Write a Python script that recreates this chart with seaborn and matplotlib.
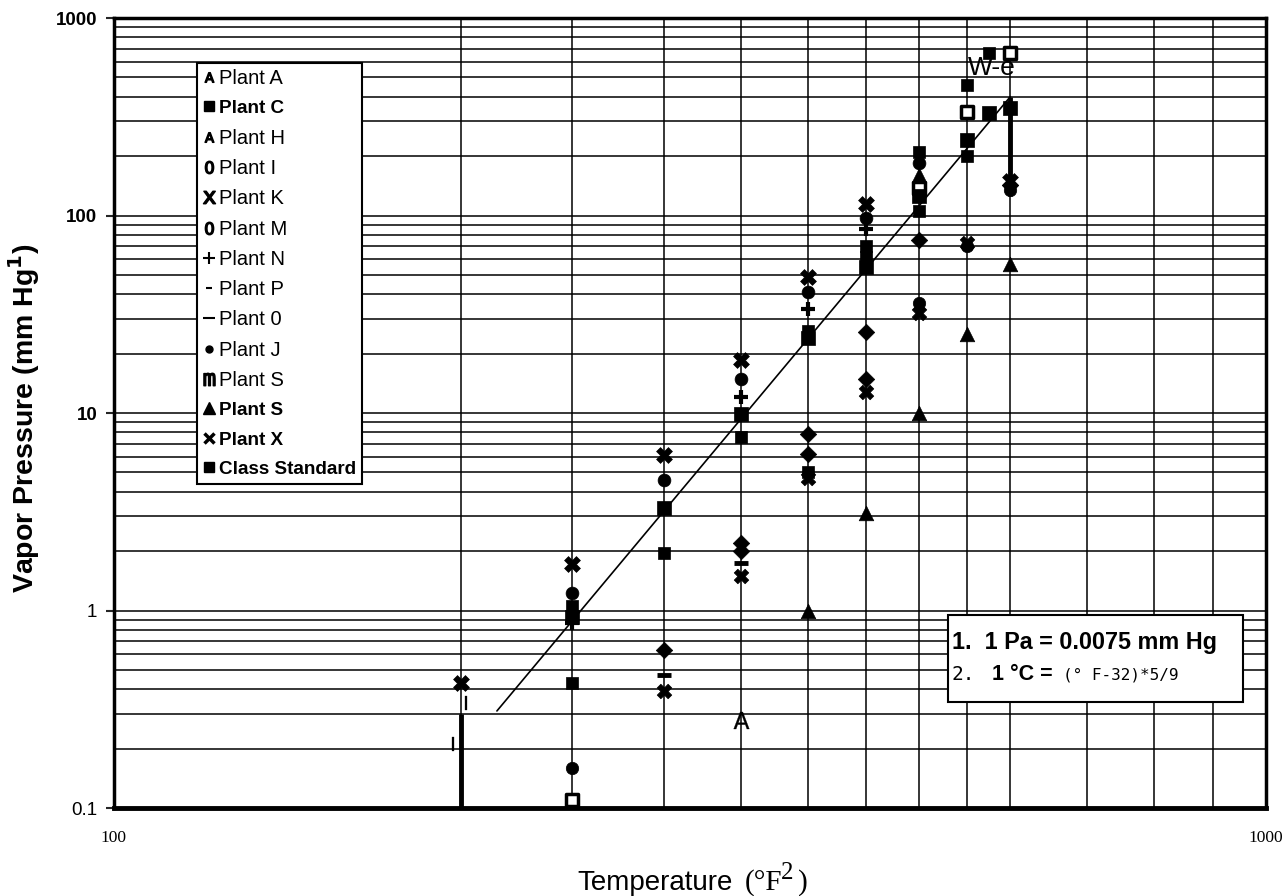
import numpy as np
import pandas as pd
import matplotlib
matplotlib.use("Agg")
import matplotlib.pyplot as plt
import seaborn as sns
from matplotlib.lines import Line2D
from matplotlib.patches import Rectangle
from matplotlib.ticker import FixedLocator, FixedFormatter, NullFormatter

sns.set_theme(style="white")
plt.rcParams['font.family'] = ['Liberation Sans', 'DejaVu Sans']

# ---------------- data (temperature °F, vapor pressure mm Hg) ----------------
plant_a_T = [350]
plant_a_p = [0.28]

plant_c_T = [250, 300, 350, 400, 450, 500, 550, 575]
plant_c_p = [0.43, 1.95, 7.6, 5.0, 70, 105, 200, 666]

plant_h_T = [250, 400, 450, 500, 550]
plant_h_p = [1.05, 26, 62, 210, 460]

plant_i_T = [202, 197]
plant_i_p = [0.34, 0.21]

plant_k_T = [300, 350, 400, 450, 500, 550]
plant_k_p = [0.39, 1.5, 4.7, 12.8, 32, 73]

plant_m_T = [250, 500, 550, 600]
plant_m_p = [0.16, 36, 70, 135]

plant_n_T = [250, 350, 400, 450]
plant_n_p = [0.86, 12, 33.5, 85]

plant_p_T = [300, 350]
plant_p_p = [0.47, 1.75]

plant_o_T = [300, 350, 350, 400, 400, 450, 450, 500, 600]
plant_o_p = [0.63, 2.2, 2.0, 7.8, 6.2, 25.7, 14.8, 75, 142]

plant_j_T = [250, 300, 350, 400, 450, 500]
plant_j_p = [1.22, 4.6, 14.8, 41, 97, 185]

plant_s_open_T = [250, 500, 550, 600]
plant_s_open_p = [0.11, 138, 335, 666]

plant_s_T = [400, 450, 500, 500, 550, 600]
plant_s_p = [1.0, 3.1, 10, 160, 25, 57]

plant_x_T = [200, 250, 300, 350, 400, 450, 600]
plant_x_p = [0.43, 1.72, 6.1, 18.5, 49, 115, 150]

class_std_T = [250, 300, 350, 400, 450, 500, 550, 575, 600]
class_std_p = [0.93, 3.3, 9.9, 24, 55, 125, 240, 331, 351]

fit_T = [215, 600]
fit_p = [0.31, 400]

range_T = [200, 600]
range_low = [0.1, 125]
range_high = [0.3, 400]

legend_labels = ["Plant A", "Plant C", "Plant H", "Plant I", "Plant K", "Plant M",
                 "Plant N", "Plant P", "Plant 0", "Plant J", "Plant S", "Plant S",
                 "Plant X", "Class Standard"]
bold_labels = {1, 11, 12, 13}

y_ticks = [0.1, 1, 10, 100, 1000]
y_tick_labels = ["0.1", "1", "10", "100", "1000"]
x_ticks = [100, 1000]
x_tick_labels = ["100", "1000"]
x_grid = [200, 250, 300, 350, 400, 450, 500, 550, 600, 700, 800, 900]
y_grid = [m * 10.0 ** e for e in range(-1, 3) for m in range(2, 10)]

note1 = "1.  1 Pa = 0.0075 mm Hg"
note2a = "2."
note2b = "1 °C ="
note2c = "(° F-32)*5/9"
stray_text = "W-e"
stray_T, stray_p = 578, 560

# ---------------- figure ----------------
fig = plt.figure(figsize=(12.86, 8.96), dpi=100)
fig.patch.set_facecolor("white")
ax = fig.add_axes([0.0886, 0.0982, 0.8958, 0.8817])
ax.set_facecolor("white")
ax.set_xscale("log")
ax.set_yscale("log")
ax.set_xlim(100, 1000)
ax.set_ylim(0.1, 1000)

K = "black"
common = dict(ax=ax, legend=False, zorder=5)

sns.scatterplot(x=plant_a_T, y=plant_a_p, marker=r"$\mathsf{A}$", s=150,
                color=K, edgecolor=K, linewidth=0.2, **common)
sns.scatterplot(x=plant_c_T, y=plant_c_p, marker="s", s=80, color=K, edgecolor=K, linewidth=0.5, **common)
sns.scatterplot(x=plant_h_T, y=plant_h_p, marker="s", s=80, color=K, edgecolor=K, linewidth=0.5, **common)
sns.scatterplot(x=plant_i_T, y=plant_i_p, marker=r"$\mathrm{I}$", s=110,
                color=K, edgecolor=K, linewidth=0.2, **common)
sns.scatterplot(x=plant_k_T, y=plant_k_p, marker="X", s=110, color=K, edgecolor=K, linewidth=0.5, **common)
sns.scatterplot(x=plant_m_T, y=plant_m_p, marker="o", s=80, color=K, edgecolor=K, linewidth=0.5, **common)
sns.scatterplot(x=plant_n_T, y=plant_n_p, marker="+", s=110, color=K, edgecolor=K, linewidth=3, **common)
sns.scatterplot(x=plant_p_T, y=plant_p_p, marker="_", s=110, color=K, edgecolor=K, linewidth=3.5, **common)
sns.scatterplot(x=plant_o_T, y=plant_o_p, marker="D", s=70, color=K, edgecolor=K, linewidth=0.5, **common)
sns.scatterplot(x=plant_j_T, y=plant_j_p, marker="o", s=85, color=K, edgecolor=K, linewidth=0.5, **common)
sns.scatterplot(x=plant_s_open_T, y=plant_s_open_p, marker="s", s=70, facecolor="white",
                edgecolor=K, linewidth=2.5, **common)
sns.scatterplot(x=plant_s_T, y=plant_s_p, marker="^", s=110, color=K, edgecolor=K, linewidth=0.5, **common)
sns.scatterplot(x=plant_x_T, y=plant_x_p, marker="X", s=130, color=K, edgecolor=K, linewidth=0.5, **common)
sns.scatterplot(x=class_std_T, y=class_std_p, marker="s", s=90, color=K, edgecolor=K, linewidth=0.5, **common)

# fitted line
sns.lineplot(x=fit_T, y=fit_p, color=K, linewidth=1.2, ax=ax, zorder=4)
# range bars
ax.vlines(range_T, range_low, range_high, colors=K, linewidth=3.5, zorder=4)

# grid / ticks
ax.xaxis.set_major_locator(FixedLocator(x_ticks))
ax.xaxis.set_major_formatter(FixedFormatter(x_tick_labels))
ax.xaxis.set_minor_locator(FixedLocator(x_grid))
ax.xaxis.set_minor_formatter(NullFormatter())
ax.yaxis.set_major_locator(FixedLocator(y_ticks))
ax.yaxis.set_major_formatter(FixedFormatter(y_tick_labels))
ax.yaxis.set_minor_locator(FixedLocator(y_grid))
ax.yaxis.set_minor_formatter(NullFormatter())
ax.grid(True, which="both", color=K, linewidth=1.1, zorder=1)
ax.set_axisbelow(True)

ax.tick_params(axis="x", which="both", length=0, pad=16, labelsize=12.5, labelcolor=K)
ax.tick_params(axis="y", which="major", length=6, width=1.5, direction="out", pad=6,
               labelsize=13.5, labelcolor=K, left=True)
ax.tick_params(axis="y", which="minor", length=0)
for lbl in ax.get_xticklabels():
    lbl.set_fontfamily("Liberation Serif")
for lbl, txt in zip(ax.get_yticklabels(), y_tick_labels):
    lbl.set_fontweight("bold" if txt in ("10", "100", "1000") else "normal")

for side, lw in [("left", 2.5), ("bottom", 3.5), ("top", 2.5), ("right", 2.5)]:
    ax.spines[side].set_visible(True)
    ax.spines[side].set_color(K)
    ax.spines[side].set_linewidth(lw)

# axis labels
ax.set_ylabel(r"Vapor Pressure (mm Hg$^{\mathbf{1}}$)", fontsize=20.5, fontweight="bold", color=K)
ax.yaxis.label.set_math_fontfamily("dejavusans")
ax.yaxis.set_label_coords(-0.0625, 0.4937)
xl_base = -0.1038
ax.text(0.537, xl_base, "Temperature", transform=ax.transAxes, ha="right", va="baseline",
        fontsize=20, color=K)
ax.text(0.5477, xl_base, "(°F", transform=ax.transAxes, ha="left", va="baseline",
        fontsize=21, color=K, family="Liberation Serif")
ax.text(0.5790, -0.0899, "2", transform=ax.transAxes, ha="left", va="baseline",
        fontsize=18, color=K, family="Liberation Serif")
ax.text(0.5935, xl_base, ")", transform=ax.transAxes, ha="left", va="baseline",
        fontsize=21, color=K, family="Liberation Serif")

# legend
glyphs = [
    dict(marker=r"$\mathsf{A}$", markersize=7),
    dict(marker="s", markersize=7),
    dict(marker=r"$\mathsf{A}$", markersize=7),
    dict(marker=r"$\mathsf{0}$", markersize=9),
    dict(marker=r"$\mathsf{x}$", markersize=9),
    dict(marker=r"$\mathsf{0}$", markersize=9),
    dict(marker="+", markersize=8, markeredgewidth=1.5),
    dict(marker="_", markersize=5, markeredgewidth=1.5),
    dict(marker="_", markersize=8, markeredgewidth=1.5),
    dict(marker="o", markersize=5),
    dict(marker=r"$\mathtt{m}$", markersize=9),
    dict(marker="^", markersize=8),
    dict(marker="x", markersize=7, markeredgewidth=2.5),
    dict(marker="s", markersize=7),
]
handles = [Line2D([], [], linestyle="None", color=K, markerfacecolor=K, markeredgecolor=K, **g)
           for g in glyphs]
leg = ax.legend(handles, legend_labels, loc="upper left", bbox_to_anchor=(0.072, 0.943),
                borderaxespad=0, frameon=True, fancybox=False, framealpha=1,
                edgecolor=K, fontsize=14.5, labelspacing=0.56, handlelength=0.6,
                handletextpad=0.2, borderpad=0.3)
leg.get_frame().set_linewidth(1.5)
leg.set_zorder(10)
for i, t in enumerate(leg.get_texts()):
    t.set_color(K)
    if i in bold_labels:
        t.set_fontweight("bold")
        t.set_fontsize(13.6)

# note box
ax.add_patch(Rectangle((0.724, 0.134), 0.256, 0.110, transform=ax.transAxes,
                       facecolor="white", edgecolor=K, linewidth=1.5, zorder=8))
ax.text(0.7274, 0.2089, note1, transform=ax.transAxes, ha="left", va="center",
        fontsize=16.8, fontweight="bold", color=K, zorder=9)
ax.text(0.7274, 0.1684, note2a, transform=ax.transAxes, ha="left", va="center",
        fontsize=14, color=K, family="DejaVu Sans Mono", zorder=9)
ax.text(0.7622, 0.1684, note2b, transform=ax.transAxes, ha="left", va="center",
        fontsize=15.5, fontweight="bold", color=K, zorder=9)
ax.text(0.8238, 0.1684, note2c, transform=ax.transAxes, ha="left", va="center",
        fontsize=11.5, color=K, family="DejaVu Sans Mono", zorder=9)

ax.text(stray_T, stray_p, stray_text, ha="center", va="center", fontsize=19, color=K, zorder=9)

fig.savefig("out.png", dpi=100, facecolor="white")
